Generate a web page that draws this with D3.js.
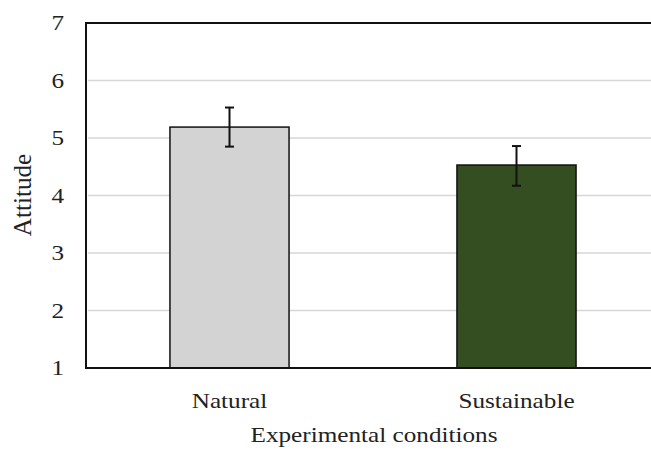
<!DOCTYPE html>
<html>
<head>
<meta charset="utf-8">
<script src="https://cdn.jsdelivr.net/npm/d3@7"></script>
<style>
  body { margin: 0; background: #fff; }
  text { font-family: "Liberation Serif", "Times New Roman", serif; fill: #222; }
</style>
</head>
<body>
<figure id="graph" style="margin:0"></figure>
<script>
// data
const conditions = ['Natural', 'Sustainable'];
const means = [5.19, 4.53];
const errLow = [4.85, 4.17];
const errHigh = [5.53, 4.86];
const barColors = ['#d3d3d3', '#344e22'];
const yTicks = [1, 2, 3, 4, 5, 6, 7];

const width = 651, height = 451;
const plot = { left: 86, right: 660, top: 23, bottom: 368 };

const svg = d3.select('figure#graph')
  .append('svg')
  .attr('width', width)
  .attr('height', height);

const xScale = d3.scaleBand()
  .domain(conditions)
  .range([plot.left, plot.right])
  .paddingInner(0.585)
  .paddingOuter(0.2925);

const yScale = d3.scaleLinear()
  .domain([1, 7])
  .range([plot.bottom, plot.top]);

// gridlines
svg.append('g')
  .attr('class', 'grid')
  .selectAll('line')
  .data(yTicks.slice(1, -1))
  .join('line')
  .attr('x1', plot.left + 2)
  .attr('x2', plot.right)
  .attr('y1', d => yScale(d))
  .attr('y2', d => yScale(d))
  .attr('stroke', '#d6d6d6')
  .attr('stroke-width', 1.5);

// bars
svg.selectAll('.bar')
  .data(conditions)
  .join('rect')
  .attr('class', 'bar')
  .attr('x', d => xScale(d))
  .attr('y', (d, i) => yScale(means[i]))
  .attr('width', xScale.bandwidth())
  .attr('height', (d, i) => yScale(1) - yScale(means[i]))
  .attr('fill', (d, i) => barColors[i])
  .attr('stroke', '#111')
  .attr('stroke-width', 1.5);

// error bars
const err = svg.append('g').attr('class', 'errors');
conditions.forEach((c, i) => {
  const cx = xScale(c) + xScale.bandwidth() / 2;
  err.append('line')
    .attr('x1', cx).attr('x2', cx)
    .attr('y1', yScale(errLow[i])).attr('y2', yScale(errHigh[i]))
    .attr('stroke', '#111').attr('stroke-width', 2);
  [errLow[i], errHigh[i]].forEach(v => {
    err.append('line')
      .attr('x1', cx - 4.5).attr('x2', cx + 4.5)
      .attr('y1', yScale(v)).attr('y2', yScale(v))
      .attr('stroke', '#111').attr('stroke-width', 2);
  });
});

// frame
svg.append('rect')
  .attr('x', plot.left)
  .attr('y', plot.top)
  .attr('width', plot.right - plot.left)
  .attr('height', plot.bottom - plot.top)
  .attr('fill', 'none')
  .attr('stroke', '#111')
  .attr('stroke-width', 2);

// y tick labels
svg.append('g')
  .selectAll('text')
  .data(yTicks)
  .join('text')
  .attr('text-anchor', 'end')
  .attr('dominant-baseline', 'central')
  .attr('font-size', 21)
  .attr('transform', d => `translate(64, ${yScale(d)}) scale(1.2, 1)`)
  .text(d => d);

// x labels
svg.append('g')
  .selectAll('text')
  .data(conditions)
  .join('text')
  .attr('text-anchor', 'middle')
  .attr('font-size', 21)
  .attr('transform', d => `translate(${xScale(d) + xScale.bandwidth() / 2}, 408) scale(1.2, 1)`)
  .text(d => d);

svg.append('text')
  .attr('text-anchor', 'middle')
  .attr('font-size', 21)
  .attr('transform', 'translate(374, 442) scale(1.2, 1)')
  .text('Experimental  conditions');

svg.append('text')
  .attr('text-anchor', 'middle')
  .attr('font-size', 21)
  .attr('transform', 'translate(31, 195) rotate(-90) scale(1.2, 1.2)')
  .text('Attitude');
</script>
</body>
</html>
